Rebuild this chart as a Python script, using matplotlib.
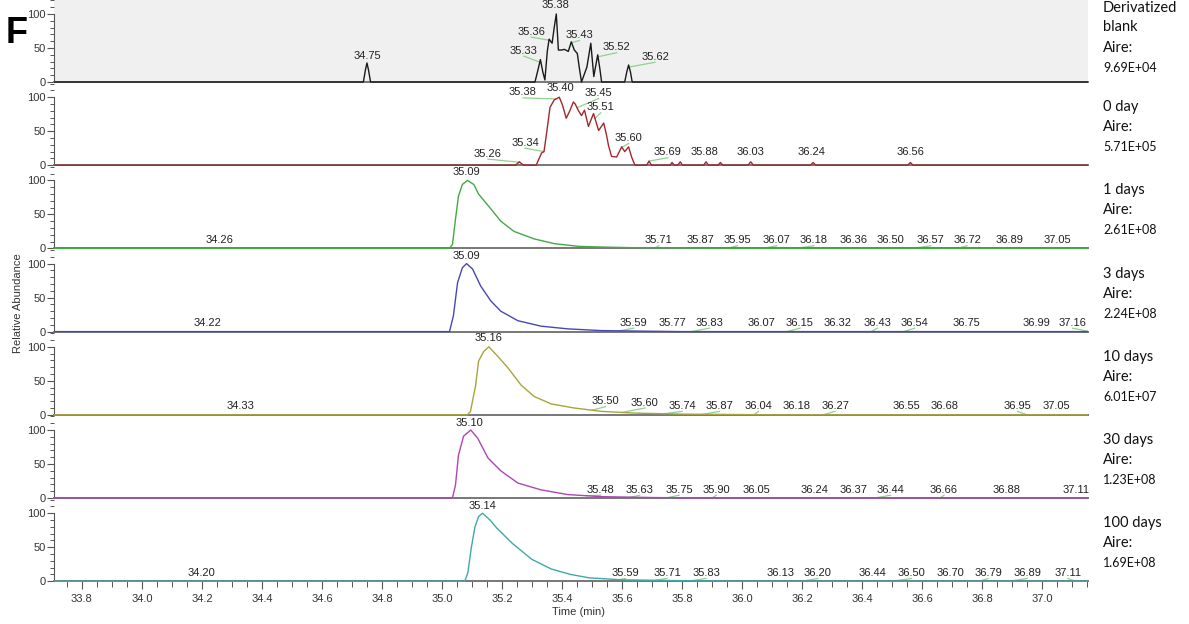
import numpy as np
import matplotlib
matplotlib.use("Agg")
import matplotlib.pyplot as plt
from matplotlib.ticker import MultipleLocator, FormatStrFormatter

plt.rcParams['font.family'] = ['Liberation Sans', 'DejaVu Sans']

# time window of the chromatograms (min)
t_min, t_max = 33.707, 37.153

# traces: (time, relative abundance)
blank_trace = [(33.707, 0), (34.738, 0), (34.745, 18), (34.750, 28), (34.755, 18), (34.762, 0),
               (35.310, 0), (35.320, 18), (35.328, 33), (35.336, 15), (35.343, 3), (35.351, 45),
               (35.357, 63), (35.367, 57), (35.374, 80), (35.381, 100), (35.388, 47), (35.398, 47),
               (35.408, 48), (35.421, 45), (35.431, 59), (35.441, 47), (35.451, 42), (35.458, 20),
               (35.465, 0), (35.483, 22), (35.496, 57), (35.506, 8), (35.519, 40), (35.526, 20),
               (35.532, 0), (35.609, 0), (35.616, 15), (35.622, 25), (35.628, 15), (35.634, 0),
               (37.153, 0)]
day0_trace = [(33.707, 0), (35.245, 0), (35.258, 5), (35.271, 0), (35.314, 0), (35.322, 8),
              (35.332, 18), (35.340, 20), (35.348, 45), (35.360, 85), (35.374, 96), (35.391, 100),
              (35.402, 88), (35.414, 69), (35.426, 80), (35.438, 93), (35.444, 90), (35.455, 80),
              (35.465, 73), (35.475, 81), (35.488, 57), (35.505, 76), (35.522, 51), (35.539, 62),
              (35.548, 45), (35.555, 29), (35.565, 13), (35.582, 12), (35.599, 27), (35.609, 20),
              (35.622, 27), (35.632, 12), (35.643, 0), (35.682, 0), (35.690, 6), (35.698, 0),
              (35.760, 0), (35.767, 4), (35.774, 0), (35.786, 0), (35.794, 5), (35.802, 0),
              (35.872, 0), (35.880, 5), (35.888, 0), (35.920, 0), (35.928, 4), (35.936, 0),
              (36.020, 0), (36.029, 5), (36.038, 0), (36.228, 0), (36.237, 4), (36.246, 0),
              (36.552, 0), (36.561, 4), (36.570, 0), (37.153, 0)]
day1_trace = [(33.707, 0), (35.025, 0), (35.035, 6), (35.045, 43), (35.055, 77), (35.068, 94),
              (35.085, 100), (35.106, 94), (35.122, 80), (35.163, 58), (35.196, 40), (35.240, 25),
              (35.307, 14), (35.374, 7), (35.455, 3), (35.532, 2), (35.643, 1), (35.800, 0.5),
              (35.900, 0), (37.153, 0)]
day3_trace = [(33.707, 0), (35.025, 0), (35.038, 23), (35.052, 72), (35.068, 94), (35.082, 100),
              (35.102, 92), (35.129, 67), (35.163, 45), (35.196, 30), (35.253, 16), (35.330, 8),
              (35.420, 4), (35.530, 1.5), (35.700, 0.5), (35.800, 0), (37.153, 0)]
day10_trace = [(33.707, 0), (35.085, 0), (35.095, 5), (35.112, 43), (35.122, 79), (35.139, 93),
               (35.156, 100), (35.186, 86), (35.220, 69), (35.263, 44), (35.307, 27), (35.364, 16),
               (35.441, 10), (35.532, 5), (35.643, 2.5), (35.800, 1), (35.950, 0.5), (36.100, 0),
               (37.153, 0)]
day30_trace = [(33.707, 0), (35.035, 0), (35.045, 19), (35.055, 63), (35.072, 91), (35.096, 100),
               (35.119, 88), (35.153, 59), (35.196, 40), (35.253, 22), (35.330, 12), (35.420, 5),
               (35.530, 2), (35.700, 0.7), (35.850, 0), (37.153, 0)]
day100_trace = [(33.707, 0), (35.076, 0), (35.086, 12), (35.098, 50), (35.110, 80), (35.122, 95),
                (35.135, 100), (35.160, 90), (35.183, 78), (35.236, 55), (35.300, 32), (35.364, 18),
                (35.428, 10), (35.490, 5), (35.600, 2), (35.800, 0.8), (35.950, 0), (37.153, 0)]

# peak labels: (retention time text, label time, label height)
blank_labels = [("34.75", 34.75, 38), ("35.33", 35.273, 46), ("35.36", 35.297, 74),
                ("35.38", 35.377, 113), ("35.43", 35.458, 69), ("35.52", 35.582, 51),
                ("35.62", 35.710, 37)]
day0_labels = [("35.26", 35.153, 17), ("35.34", 35.277, 33), ("35.38", 35.270, 107),
               ("35.40", 35.394, 113), ("35.45", 35.522, 106), ("35.51", 35.529, 85),
               ("35.60", 35.622, 40), ("35.69", 35.753, 19), ("35.88", 35.874, 19),
               ("36.03", 36.029, 19), ("36.24", 36.233, 19), ("36.56", 36.562, 19)]
day1_labels = [("35.09", 35.082, 112), ("34.26", 34.26, 12), ("35.71", 35.723, 12),
               ("35.87", 35.861, 12), ("35.95", 35.985, 12), ("36.07", 36.116, 12),
               ("36.18", 36.240, 12), ("36.36", 36.371, 12), ("36.50", 36.495, 12),
               ("36.57", 36.629, 12), ("36.72", 36.750, 12), ("36.89", 36.891, 12),
               ("37.05", 37.052, 12)]
day3_labels = [("35.09", 35.082, 111), ("34.22", 34.22, 13), ("35.59", 35.639, 13),
               ("35.77", 35.767, 13), ("35.83", 35.891, 13), ("36.07", 36.065, 13),
               ("36.15", 36.193, 13), ("36.32", 36.320, 13), ("36.43", 36.451, 13),
               ("36.54", 36.575, 13), ("36.75", 36.747, 13), ("36.99", 36.982, 13),
               ("37.16", 37.102, 13)]
day10_labels = [("35.16", 35.156, 113), ("34.33", 34.33, 13), ("35.50", 35.545, 20),
                ("35.60", 35.676, 18), ("35.74", 35.800, 13), ("35.87", 35.924, 13),
                ("36.04", 36.055, 13), ("36.18", 36.183, 13), ("36.27", 36.310, 13),
                ("36.55", 36.549, 13), ("36.68", 36.676, 13), ("36.95", 36.918, 13),
                ("37.05", 37.049, 13)]
day30_labels = [("35.10", 35.092, 110), ("35.48", 35.529, 12), ("35.63", 35.659, 12),
                ("35.75", 35.790, 12), ("35.90", 35.914, 12), ("36.05", 36.049, 12),
                ("36.24", 36.243, 12), ("36.37", 36.371, 12), ("36.44", 36.495, 12),
                ("36.66", 36.673, 12), ("36.88", 36.881, 12), ("37.11", 37.112, 12)]
day100_labels = [("35.14", 35.135, 110), ("34.20", 34.20, 12), ("35.59", 35.611, 12),
                 ("35.71", 35.750, 12), ("35.83", 35.880, 12), ("36.13", 36.129, 12),
                 ("36.20", 36.253, 12), ("36.44", 36.434, 12), ("36.50", 36.565, 12),
                 ("36.70", 36.696, 12), ("36.79", 36.820, 12), ("36.89", 36.950, 12),
                 ("37.11", 37.086, 12)]

sample_names = ["Derivatized\nblank", "0 day", "1 days", "3 days", "10 days", "30 days", "100 days"]
sample_areas = ["9.69E+04", "5.71E+05", "2.61E+08", "2.24E+08", "6.01E+07", "1.23E+08", "1.69E+08"]

traces = [blank_trace, day0_trace, day1_trace, day3_trace, day10_trace, day30_trace, day100_trace]
labels = [blank_labels, day0_labels, day1_labels, day3_labels, day10_labels, day30_labels, day100_labels]
colors = ["#1a1a1a", "#a3282b", "#44a845", "#4848b4", "#a7a53c", "#b044b4", "#3eaaa8"]

W, H = 1189, 624
fig = plt.figure(figsize=(W / 100, H / 100), dpi=100)

# panel geometry in pixels
left_px, right_px = 54, 1088
zero0_px, step_px, unit_px = 82, 83.2, 0.68
y_lo, y_hi = -3, 122

for k in range(7):
    zero_px = zero0_px + k * step_px
    bottom_px = zero_px - y_lo * unit_px
    height_px = (y_hi - y_lo) * unit_px
    ax = fig.add_axes([left_px / W, 1 - bottom_px / H,
                       (right_px - left_px) / W, height_px / H])
    ax.patch.set_visible(False)
    ax.set_xlim(t_min, t_max)
    ax.set_ylim(y_lo, y_hi)

    if k == 0:
        ax.axhspan(0, y_hi + 5, color="#f0f0f0", zorder=0)

    tr = np.array(traces[k], dtype=float)
    t, h = tr[:, 0], tr[:, 1]
    ax.plot(t, h, color=colors[k], lw=1.0, zorder=3)

    for txt, lt, lh in labels[k]:
        rt = float(txt)
        if abs(lt - rt) > 0.012:
            ax.plot([rt, lt], [np.interp(rt, t, h), lh - 8], color="#8fd18f", lw=0.9, zorder=2)
        ax.text(lt, lh, txt, ha="center", va="center", fontsize=8, color="#222222",
                clip_on=False, zorder=4)

    for side in ["top", "right"]:
        ax.spines[side].set_visible(False)
    ax.spines["left"].set_bounds(0, 100)
    ax.spines["left"].set_color("#555555")
    ax.spines["left"].set_linewidth(0.8)
    ax.spines["bottom"].set_position(("data", 0))
    ax.spines["bottom"].set_color("#777777")
    ax.spines["bottom"].set_linewidth(1.4)

    ax.set_yticks([0, 50, 100])
    ax.yaxis.set_minor_locator(MultipleLocator(10))
    ax.tick_params(axis="y", which="major", length=5, width=0.8, color="#555555",
                   labelsize=8, pad=1, labelcolor="#333333")
    ax.tick_params(axis="y", which="minor", length=3, width=0.7, color="#555555")

    ax.xaxis.set_major_locator(MultipleLocator(0.2))
    ax.xaxis.set_minor_locator(MultipleLocator(0.05))
    ax.xaxis.set_major_formatter(FormatStrFormatter("%.1f"))
    if k < 6:
        ax.tick_params(axis="x", which="both", bottom=False, labelbottom=False)
    else:
        ax.tick_params(axis="x", which="major", length=6, width=0.8, color="#555555",
                       labelsize=8, pad=3, labelcolor="#333333")
        ax.tick_params(axis="x", which="minor", length=4, width=0.7, color="#555555")

    # sample name and area on the right
    if k == 0:
        rows = [("Derivatized", 8, 10.5), ("blank", 27, 10.5), ("Aire:", 48, 10.5),
                (sample_areas[0], 68, 9)]
    else:
        rows = [(sample_names[k], zero_px - 58, 10.5), ("Aire:", zero_px - 38, 10.5),
                (sample_areas[k], zero_px - 18, 9)]
    for s, y, fs in rows:
        fig.text(1103 / W, 1 - y / H, s, ha="left", va="center", fontsize=fs,
                 family=["Lato", "DejaVu Sans"], color="#111111")

fig.text(6 / W, 1 - 43 / H, "F", fontsize=26, fontweight="bold", ha="left", va="baseline")
fig.text(18 / W, 1 - 303 / H, "Relative Abundance", rotation=90, ha="center", va="center",
         fontsize=8, color="#333333")
fig.text(578 / W, 1 - 612 / H, "Time (min)", ha="center", va="center", fontsize=8, color="#333333")

fig.savefig("out.png", dpi=100)
